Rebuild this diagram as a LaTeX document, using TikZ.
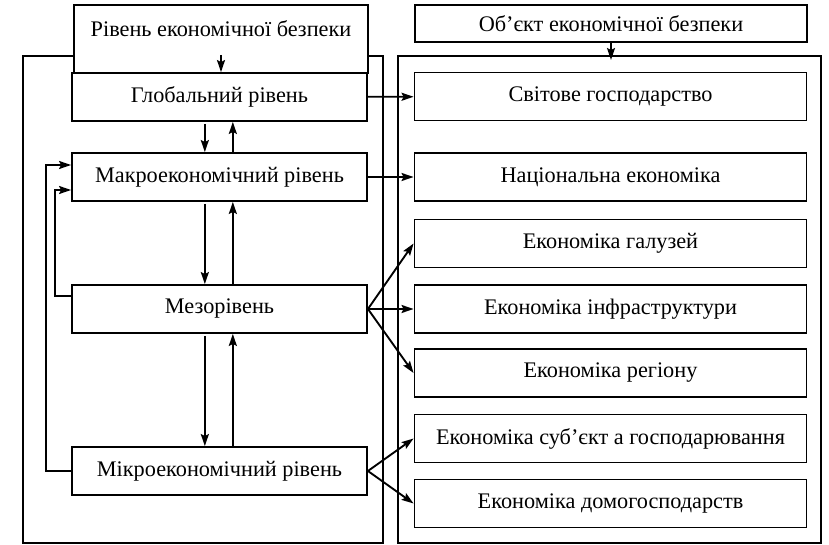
\documentclass[tikz,border=0pt]{standalone}
\usepackage{fontspec}
\setmainfont{Liberation Serif}
\usepackage{tikz}
\usetikzlibrary{arrows.meta,positioning}
\tikzset{
    >={Stealth[length=9pt, width=6pt, inset=1.5pt]},
    ramka/.style={
        rectangle,
        draw=black, line width=1.4pt,
        inner sep=0pt
    },
    riven/.style={
        rectangle,
        draw=black, line width=1.4pt,
        fill=white,
        minimum width=221.25pt,
        minimum height=36pt,
        inner sep=0pt,
        text centered
    },
    obiekt/.style={
        rectangle,
        draw=black, line width=1.4pt,
        fill=white,
        minimum width=294pt,
        minimum height=36pt,
        inner sep=0pt,
        text centered
    },
    line/.style={draw, line width=1.4pt, ->}
}

\begin{document}
\begin{tikzpicture}[x=0.75pt, y=-0.75pt, font=\fontsize{16.7}{20}\selectfont]
    \useasboundingbox (0,0) rectangle (829,545);

    % outer frames
    \node[ramka, minimum width=270pt, minimum height=365.25pt] (lframe) at (203,299.5) {};
    \node[ramka, minimum width=317.25pt, minimum height=365.25pt] (rframe) at (609.5,299.5) {};

    % headers
    \node[riven, minimum width=220.5pt, minimum height=51pt] (hdr) at (221,39) {};
    \node[anchor=base] (hdrtxt) at (221,37) {Рівень економічної безпеки};
    \node[obiekt, minimum height=27.75pt] (obj) at (611,23.5) {Об’єкт економічної безпеки};

    % levels
    \node[riven] (glob) at (219.5,97) {Глобальний рівень};
    \node[riven] (macro) at (219.5,177) {Макроекономічний рівень};
    \node[riven] (meso) at (219.5,309) {Мезорівень};
    \node[riven] (micro) at (219.5,471) {Мікроекономічний рівень};

    % objects
    \node[obiekt] (world) at (610.5,96.5) {Світове господарство};
    \node[obiekt] (nat) at (610.5,177) {Національна економіка};
    \node[obiekt] (gal) at (610.5,243.5) {Економіка галузей};
    \node[obiekt] (infra) at (610.5,309) {Економіка інфраструктури};
    \node[obiekt] (reg) at (610.5,373) {Економіка регіону};
    \node[obiekt] (subj) at (610.5,438.5) {Економіка суб’єкт а господарювання};
    \node[obiekt] (dom) at (610.5,503.5) {Економіка домогосподарств};

    \coordinate (hdrfrom) at (221,55);
    \coordinate (objto) at (611,60);
    \draw[line] (hdrfrom) -- (hdrfrom |- glob.north);
    \draw[line] (obj.south -| objto) -- (objto);

    % between levels
    \draw[line, shorten <=1.5pt] ([xshift=-11pt]glob.south) -- ([xshift=-11pt]macro.north);
    \draw[line] ([xshift=10pt]macro.north) -- ([xshift=10pt]glob.south);
    \draw[line, shorten <=1.5pt] ([xshift=-11pt]macro.south) -- ([xshift=-11pt]meso.north);
    \draw[line] ([xshift=10pt]meso.north) -- ([xshift=10pt]macro.south);
    \draw[line, shorten <=1.5pt] ([xshift=-11pt]meso.south) -- ([xshift=-11pt]micro.north);
    \draw[line] ([xshift=10pt]micro.north) -- ([xshift=10pt]meso.south);

    % feedback to macro level
    \draw[line] (micro.west) -- ++(-25,0) |- ([yshift=9pt]macro.west);
    \draw[line] ([yshift=9.75pt]meso.west) -- ++(-16,0) |- ([yshift=-9.75pt]macro.west);

    % levels to objects
    \draw[line] (glob) -- (world);
    \draw[line] (macro) -- (nat);
    \draw[line] (meso.east) -- (gal.west);
    \draw[line] (meso.east) -- (infra.west);
    \draw[line] (meso.east) -- (reg.west);
    \draw[line] (micro.east) -- (subj.west);
    \draw[line] (micro.east) -- (dom.west);
\end{tikzpicture}
\end{document}
